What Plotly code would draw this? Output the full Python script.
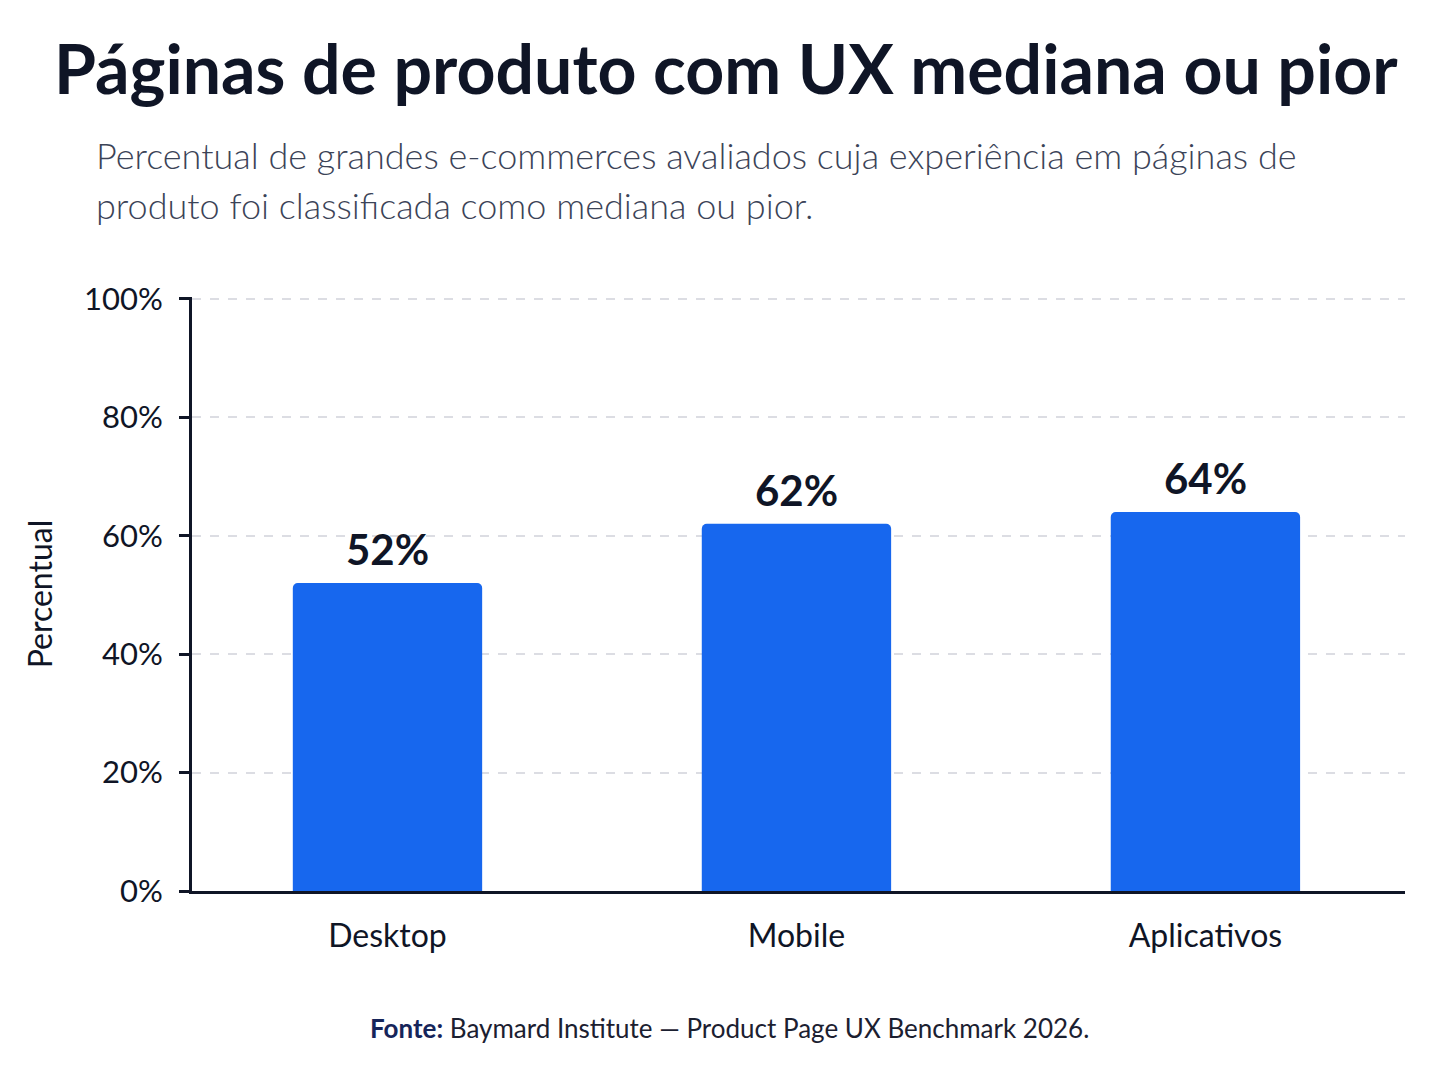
import plotly.graph_objects as go

# Data
categories = ["Desktop", "Mobile", "Aplicativos"]
values = [52, 62, 64]
tick_vals = [0, 20, 40, 60, 80, 100]
tick_text = ["0%", "20%", "40%", "60%", "80%", "100%"]

font = "Lato, 'Open Sans', sans-serif"
dark = "#0f1526"

# page body adds 8px, so margins are set so the plot lands at 190..1405 / 297..891
L, R, T, B = 184, 51, 289, 203
plot_w = 1448 - L - R

fig = go.Figure()

fig.add_trace(go.Bar(
    x=categories,
    y=values,
    marker=dict(color="#1767EE", line=dict(width=0), cornerradius=5),
    hoverinfo="skip",
))

# value labels above the bars
for c, v in zip(categories, values):
    fig.add_annotation(
        x=c, y=v, text=f"<b>{v}%</b>", showarrow=False,
        yanchor="middle", yshift=34,
        font=dict(family=font, size=42, color=dark, weight=800),
    )

fig.update_layout(
    width=1448,
    height=1086,
    paper_bgcolor="white",
    plot_bgcolor="white",
    margin=dict(l=L, r=R, t=T, b=B),
    bargap=0.537,
    showlegend=False,
    font=dict(family=font, color=dark),
    xaxis=dict(
        range=[-0.478, 2.488],
        showline=True, linecolor=dark, linewidth=3,
        ticks="", tickfont=dict(size=32, color=dark), ticklabelstandoff=15,
        showgrid=False, zeroline=False,
    ),
    yaxis=dict(
        range=[0, 100.3],
        tickvals=tick_vals,
        ticktext=tick_text,
        tickfont=dict(size=31, color=dark),
        ticks="outside", ticklen=10, tickwidth=3, tickcolor=dark,
        ticklabelstandoff=10,
        showline=True, linecolor=dark, linewidth=3,
        showgrid=True, gridcolor="#dcdde3", griddash="dash", gridwidth=1.5,
        zeroline=False,
        title=dict(text="Percentual", font=dict(size=32, color=dark), standoff=22),
    ),
)

center_shift = 726 - 8 - (L + plot_w / 2)

fig.add_annotation(
    text="<b>Páginas de produto com UX mediana ou pior</b>",
    xref="paper", yref="paper", x=0.5, y=1, xanchor="center", yanchor="middle",
    yshift=T - 59, xshift=center_shift, showarrow=False,
    font=dict(family=font, size=68, color=dark, weight=900),
)

fig.add_annotation(
    text="Percentual de grandes e-commerces avaliados cuja experiência em páginas de",
    xref="paper", yref="paper", x=0, y=1, xanchor="left", yanchor="middle",
    xshift=94 - L - 8, yshift=T - 155 + 8, showarrow=False, align="left",
    font=dict(family=font, size=36, color="#3b4357", weight=300),
)
fig.add_annotation(
    text="produto foi classificada como mediana ou pior.",
    xref="paper", yref="paper", x=0, y=1, xanchor="left", yanchor="middle",
    xshift=94 - L - 8, yshift=T - 205 + 8, showarrow=False, align="left",
    font=dict(family=font, size=36, color="#3b4357", weight=300),
)

fig.add_annotation(
    text="<b style='color:#16255a'>Fonte:</b> Baymard Institute — Product Page UX Benchmark 2026.",
    xref="paper", yref="paper", x=0.5, y=0, xanchor="center", yanchor="middle",
    xshift=center_shift + 3, yshift=-(1028 - 891), showarrow=False,
    font=dict(family=font, size=26, color="#1b2030"),
)

fig.write_html("out.html")
